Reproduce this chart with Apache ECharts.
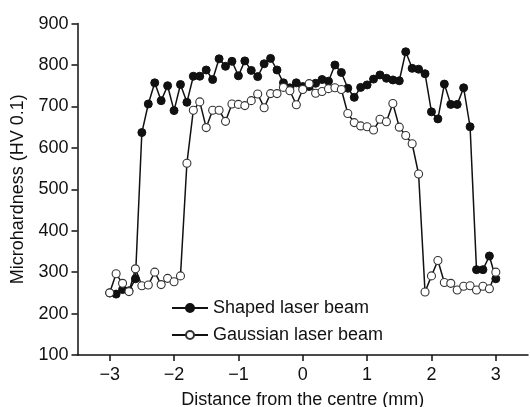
<!DOCTYPE html>
<html>
<head>
<meta charset="utf-8">
<script src="https://cdn.jsdelivr.net/npm/echarts@6/dist/echarts.min.js"></script>
<style>html,body{margin:0;padding:0;background:#fff}#c{width:530px;height:407px}</style>
</head>
<body>
<div id="c"></div>
<script>
var distance = [-3.0,-2.9,-2.8,-2.7,-2.6,-2.5,-2.4,-2.3,-2.2,-2.1,-2.0,-1.9,-1.8,-1.7,-1.6,-1.5,-1.4,-1.3,-1.2,-1.1,-1.0,-0.9,-0.8,-0.7,-0.6,-0.5,-0.4,-0.3,-0.2,-0.1,0.0,0.1,0.2,0.3,0.4,0.5,0.6,0.7,0.8,0.9,1.0,1.1,1.2,1.3,1.4,1.5,1.6,1.7,1.8,1.9,2.0,2.1,2.2,2.3,2.4,2.5,2.6,2.7,2.8,2.9,3.0];
var shaped = [250,247,258,255,284,637,706,757,714,750,690,753,710,773,773,788,765,815,797,809,774,810,787,772,803,816,788,757,745,757,748,748,756,765,761,800,782,744,722,746,752,766,776,768,764,762,832,792,790,779,687,670,754,705,705,745,651,306,306,339,284];
var gaussian = [250,296,273,253,308,267,269,300,270,285,277,291,563,691,711,649,691,691,664,706,705,702,714,730,697,731,731,746,738,704,741,755,732,736,743,745,741,683,661,653,651,643,669,663,707,650,630,610,537,252,291,328,275,273,257,266,267,257,266,260,300];
var xTicks = [-3,-2,-1,0,1,2,3];
var yTicks = [100,200,300,400,500,600,700,800,900];
var seriesNames = ['Shaped laser beam','Gaussian laser beam'];

function pairs(xs, ys){ return xs.map(function(x,i){ return [x, ys[i]]; }); }
var FONT = 'Liberation Sans, Arial, sans-serif';
var chart = echarts.init(document.getElementById('c'), null, {renderer:'canvas'});
chart.setOption({
  animation:false,
  backgroundColor:'#fff',
  grid:{left:77.5, right:2, top:23.6, bottom:52, containLabel:false, outerBoundsMode:'none'},
  legend:{
    orient:'vertical', left:166, top:294, itemWidth:36, itemHeight:10, itemGap:9,
    textStyle:{fontFamily:FONT, fontSize:18, color:'#111'},
    data:[{name:seriesNames[0]},{name:seriesNames[1]}]
  },
  xAxis:{
    type:'value', min:-3.5, max:3.5,
    name:'Distance from the centre (mm)', nameLocation:'middle', nameGap:36,
    nameTextStyle:{fontFamily:FONT, fontSize:18, color:'#111'},
    axisLine:{show:true, onZero:false, lineStyle:{color:'#111', width:1.5}},
    axisTick:{show:true, length:6, inside:false, customValues:xTicks, lineStyle:{color:'#111', width:1.5}},
    axisLabel:{customValues:xTicks, margin:11, fontFamily:FONT, fontSize:18, color:'#111',
      formatter:function(v){ return String(v).replace('-', '\u2212'); }},
    splitLine:{show:false}
  },
  yAxis:{
    type:'value', min:100, max:900, interval:100,
    name:'Microhardness (HV 0.1)', nameLocation:'middle', nameGap:50,
    nameTextStyle:{fontFamily:FONT, fontSize:18, color:'#111'},
    axisLine:{show:true, onZero:false, lineStyle:{color:'#111', width:1.5}},
    axisTick:{show:true, length:6, inside:false, lineStyle:{color:'#111', width:1.5}},
    axisLabel:{margin:9, fontFamily:FONT, fontSize:18, color:'#111'},
    splitLine:{show:false}
  },
  series:[
    {name:seriesNames[0], type:'line', data:pairs(distance, shaped), symbol:'circle', symbolSize:8,
     lineStyle:{color:'#111', width:1.5}, itemStyle:{color:'#111', borderColor:'#111', borderWidth:1}, z:2},
    {name:seriesNames[1], type:'line', data:pairs(distance, gaussian), symbol:'circle', symbolSize:8,
     lineStyle:{color:'#111', width:1.5}, itemStyle:{color:'#fff', borderColor:'#333', borderWidth:1.1}, z:3}
  ]
});
</script>
</body>
</html>
